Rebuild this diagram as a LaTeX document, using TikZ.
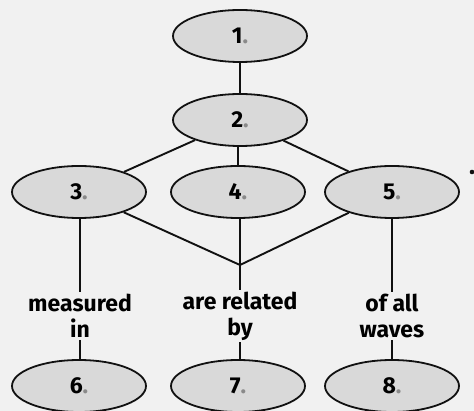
\documentclass[tikz,border=0pt]{standalone}
\usepackage{fontspec}
\setmainfont{Fira Sans}
\definecolor{MapBack}{HTML}{F1F1F1}
\definecolor{MapFill}{HTML}{D9D9D9}
\definecolor{MapInk}{HTML}{111111}
\definecolor{MapDot}{HTML}{8A8A8A}
\usetikzlibrary{shapes.geometric}
\tikzset{
  bubble/.style={ellipse, draw=MapInk, fill=MapFill, line width=1.8pt, minimum width=134pt, minimum height=52pt, inner sep=0pt, font=\fontsize{23}{26}\selectfont\bfseries},
  linkword/.style={align=center, inner sep=2pt, font=\fontsize{23}{26}\selectfont\bfseries},
  link/.style={line width=1.9pt, MapInk}
}
\newcommand{\num}[1]{#1{\color{MapDot}.}}

\begin{document}
\begin{tikzpicture}[x=1pt, y=-1pt]
    \fill[MapBack] (0,0) rectangle (474,411);
    \useasboundingbox (0,0) rectangle (474,411);

    \node[bubble] (c1) at (240,36) {\num{1}};
    \node[bubble] (c2) at (240,120) {\num{2}};
    \node[bubble] (c3) at (79,192) {\num{3}};
    \node[bubble] (c4) at (238,192) {\num{4}};
    \node[bubble] (c5) at (392,192) {\num{5}};
    \node[bubble] (c6) at (79,386) {\num{6}};
    \node[bubble] (c7) at (238,386) {\num{7}};
    \node[bubble] (c8) at (392,386) {\num{8}};

    \node[linkword] (w1) at (80,316) {measured\\in};
    \node[linkword] (w2) at (240,316) {are related\\by};
    \node[linkword] (w3) at (392,316) {of all\\waves};
    \coordinate (join) at (240,265);

    \draw[link] (c1) -- (c2);
    \draw[link] (c2) -- (c3);
    \draw[link] (c2.south -| c4) -- (c4);
    \draw[link] (c2) -- (c5);
    \draw[link] (c3) -- (join);
    \draw[link] (c5) -- (join);
    \draw[link] (c4.south -| join) -- (w2);
    \draw[link] (c3.south -| w1) -- (w1);
    \draw[link] (w1) -- (c6.north -| w1);
    \draw[link] (w2) -- (c7.north -| w2);
    \draw[link] (c5) -- (w3);
    \draw[link] (w3) -- (c8);

    \fill[MapInk] (472,172) circle (2.3pt);
  \end{tikzpicture}
\end{document}
